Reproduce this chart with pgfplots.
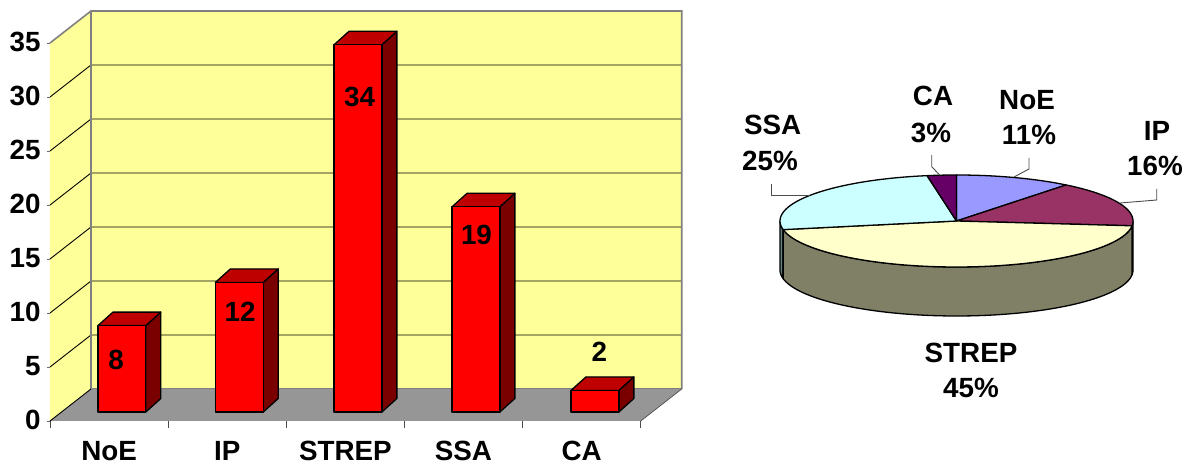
\documentclass[border=0pt]{standalone}
\usepackage{pgfplots}
\pgfplotsset{compat=1.18}
\usepackage{fontspec}
\setmainfont{Liberation Sans}
\definecolor{wall}{HTML}{FFFF99}
\definecolor{floorgray}{HTML}{969696}
\definecolor{edgegray}{HTML}{808080}
\definecolor{bartop}{HTML}{BE0000}
\definecolor{barside}{HTML}{7A0000}
\definecolor{pieA}{HTML}{9999FF}
\definecolor{pieB}{HTML}{993366}
\definecolor{pieC}{HTML}{FFFFCC}
\definecolor{pieD}{HTML}{CCFFFF}
\definecolor{pieE}{HTML}{660066}
\definecolor{pieCside}{HTML}{808066}
\definecolor{pieDside}{HTML}{668080}
\definecolor{pieBside}{HTML}{4D1A33}
\newcommand{\chartfont}{\fontsize{27.8}{29}\bfseries\selectfont}

% Oblique offsets of the plot box and of each column, in data units
\def\boxdx{0.347}
\def\boxdy{2.963}
\def\coldx{0.127}
\def\coldy{1.25}
\def\colw{0.405}
\def\colbase{0.833}

% One column: position of its left edge, value, place of the value label
\newcommand{\column}[4]{%
  \pgfmathsetmacro\xl{#1}%
  \pgfmathsetmacro\xr{#1+\colw}%
  \pgfmathsetmacro\yb{\colbase}%
  \pgfmathsetmacro\yt{\colbase+#2}%
  \pgfmathsetmacro\xrb{\xr+\coldx}%
  \pgfmathsetmacro\xlb{\xl+\coldx}%
  \pgfmathsetmacro\ytb{\yt+\coldy}%
  \pgfmathsetmacro\ybb{\yb+\coldy}%
  \edef\temp{%
    \noexpand\addplot[fill=barside,draw=black,line width=1.3pt,line join=round]
      coordinates {(\xr,\yb) (\xrb,\ybb) (\xrb,\ytb) (\xr,\yt)} -- cycle;
    \noexpand\addplot[fill=bartop,draw=black,line width=1.3pt,line join=round]
      coordinates {(\xl,\yt) (\xr,\yt) (\xrb,\ytb) (\xlb,\ytb)} -- cycle;
    \noexpand\addplot[fill=red,draw=black,line width=1.3pt,line join=round]
      coordinates {(\xl,\yb) (\xr,\yb) (\xr,\yt) (\xl,\yt)} -- cycle;
    \noexpand\node[font=\noexpand\chartfont] at (axis cs:#3,#4) {#2};
  }\temp
}

% Horizontal grid line at one value, running over side wall and back wall
\newcommand{\gridat}[1]{%
  \pgfmathsetmacro\ya{#1}%
  \pgfmathsetmacro\yb{#1+\boxdy}%
  \pgfmathsetmacro\xa{\boxdx}%
  \pgfmathsetmacro\xb{5+\boxdx}%
  \edef\temp{\noexpand\addplot[black,line width=0.9pt]
    coordinates {(0,\ya) (\xa,\yb) (\xb,\yb)};}\temp
}

% Pie geometry: semi-axes, rim depth and the total of the values
\def\rx{176.5}
\def\ry{46}
\def\rimdepth{49}
\def\total{75}

% Top face of a slice, between two cumulative values
\newcommand{\slice}[3]{%
  \pgfmathtruncatemacro\n{max(2,ceil(abs(#2-#1)*4.8/2))}%
  \xdef\ptlist{(0,0)}%
  \foreach \k in {0,...,\n}{%
    \pgfmathsetmacro\tt{(#1+(#2-#1)*\k/\n)/\total*360}%
    \pgfmathsetmacro\px{\rx*sin(\tt)}%
    \pgfmathsetmacro\py{\ry*cos(\tt)}%
    \xdef\ptlist{\ptlist (\px,\py)}%
  }%
  \edef\temp{\noexpand\addplot[fill=#3,draw=black,line width=1.3pt,line join=round]
    coordinates {\ptlist} -- cycle;}\temp
}

% Visible part of the rim, between two angles
\newcommand{\rim}[3]{%
  \pgfmathtruncatemacro\n{max(2,ceil(abs(#2-#1)/2))}%
  \xdef\ptlist{}%
  \foreach \k in {0,...,\n}{%
    \pgfmathsetmacro\tt{#1+(#2-#1)*\k/\n}%
    \pgfmathsetmacro\px{\rx*sin(\tt)}%
    \pgfmathsetmacro\py{\ry*cos(\tt)}%
    \xdef\ptlist{\ptlist (\px,\py)}%
  }%
  \foreach \k in {\n,...,0}{%
    \pgfmathsetmacro\tt{#1+(#2-#1)*\k/\n}%
    \pgfmathsetmacro\px{\rx*sin(\tt)}%
    \pgfmathsetmacro\py{\ry*cos(\tt)-\rimdepth}%
    \xdef\ptlist{\ptlist (\px,\py)}%
  }%
  \edef\temp{\noexpand\addplot[fill=#3,draw=black,line width=1.3pt,line join=round]
    coordinates {\ptlist} -- cycle;}\temp
}

% Pie label in two rows, given by the centres of both rows
\newcommand{\pielabel}[6]{%
  \node[font=\chartfont] at (axis cs:#3,#4) {#1};
  \node[font=\chartfont] at (axis cs:#5,#6) {#2};
}

\begin{document}
\begin{tikzpicture}[x=1pt,y=1pt]
\useasboundingbox (0,0) rectangle (1190,465);

% Column chart
\begin{axis}[
  at={(50pt,44pt)},anchor=south west,
  scale only axis,width=590.7pt,height=378pt,
  xmin=0,xmax=5,ymin=0,ymax=35,
  clip=false,
  axis x line=bottom,axis y line=left,
  x axis line style={-,black,line width=1pt},
  y axis line style={-,black!45,line width=0.8pt},
  ytick={0,5,...,35},
  xtick={0.5,1.5,2.5,3.5,4.5},
  xticklabels={NoE,IP,STREP,SSA,CA},
  minor xtick={0,1,2,3,4,5},
  tick align=outside,
  xtick pos=bottom,ytick pos=left,
  x tick style={draw=none},
  minor x tick style={draw=black!70,line width=0.8pt},
  minor tick length=7pt,
  y tick style={black!60,line width=0.8pt},
  major tick length=3pt,
  ticklabel style={font=\chartfont},
  /pgf/number format/assume math mode=true,
  xticklabel style={yshift=-13.5pt},
  yticklabel style={xshift=-3pt,yshift=0.8pt},
]
  % Side wall, back wall and floor of the plot box
  \addplot[fill=wall,draw=none] coordinates {(0,0) (\boxdx,\boxdy) (\boxdx,37.963) (0,35)} -- cycle;
  \addplot[fill=wall,draw=none] coordinates {(\boxdx,\boxdy) (5.347,\boxdy) (5.347,37.963) (\boxdx,37.963)} -- cycle;
  \gridat{5}\gridat{10}\gridat{15}\gridat{20}\gridat{25}\gridat{30}
  \addplot[edgegray,line width=1.6pt] coordinates {(0,35) (\boxdx,37.963) (5.347,37.963) (5.347,\boxdy)};
  \addplot[edgegray,line width=1.3pt] coordinates {(\boxdx,37.963) (\boxdx,\boxdy)};
  \addplot[fill=floorgray,draw=none] coordinates {(0,0) (5,0) (5.347,\boxdy) (\boxdx,\boxdy)} -- cycle;
  \addplot[edgegray,line width=1pt] coordinates {(\boxdx,\boxdy) (5.347,\boxdy)};
  \addplot[black,line width=0.9pt] coordinates {(0,0) (\boxdx,\boxdy)};
  \addplot[black!70,line width=0.7pt] coordinates {(5,0) (5.347,\boxdy)};
  % Columns
  \column{0.406}{8}{0.56}{5.65}
  \column{1.40}{12}{1.61}{10.1}
  \column{2.404}{34}{2.62}{30}
  \column{3.403}{19}{3.61}{17.2}
  \column{4.41}{2}{4.65}{6.4}
\end{axis}

% Pie chart
\begin{axis}[
  at={(780pt,198pt)},anchor=south west,
  scale only axis,width=353pt,height=92pt,
  xmin=-176.5,xmax=176.5,ymin=-46,ymax=46,
  clip=false,hide axis,
]
  % Rim, front part only
  \rim{90}{96}{pieBside}
  \rim{259.2}{270}{pieDside}
  \rim{96}{259.2}{pieCside}
  % Top faces
  \slice{0}{8}{pieA}
  \slice{8}{20}{pieB}
  \slice{20}{54}{pieC}
  \slice{54}{73}{pieD}
  \slice{73}{75}{pieE}
  % Leader lines
  \addplot[black!70,line width=0.9pt] coordinates {(-24.8,66) (-24.8,54.3) (-16.5,45.7)};
  \addplot[black!70,line width=0.9pt] coordinates {(72.5,63) (72.5,52) (57.5,44)};
  \addplot[black!70,line width=0.9pt] coordinates {(-185.5,37) (-185.5,26) (-146.5,26)};
  \addplot[black!70,line width=0.9pt] coordinates {(200.2,32) (200.2,21) (163.5,18)};
  % Labels
  \pielabel{CA}{3\%}{-23.5}{125.5}{-25.5}{88}
  \pielabel{NoE}{11\%}{70.5}{120.8}{72.5}{85.8}
  \pielabel{SSA}{25\%}{-183.8}{96.5}{-186.5}{59.8}
  \pielabel{IP}{16\%}{200.5}{90.5}{198.5}{55.5}
  \pielabel{STREP}{45\%}{14.5}{-132}{14.5}{-167}
\end{axis}
\end{tikzpicture}
\end{document}
